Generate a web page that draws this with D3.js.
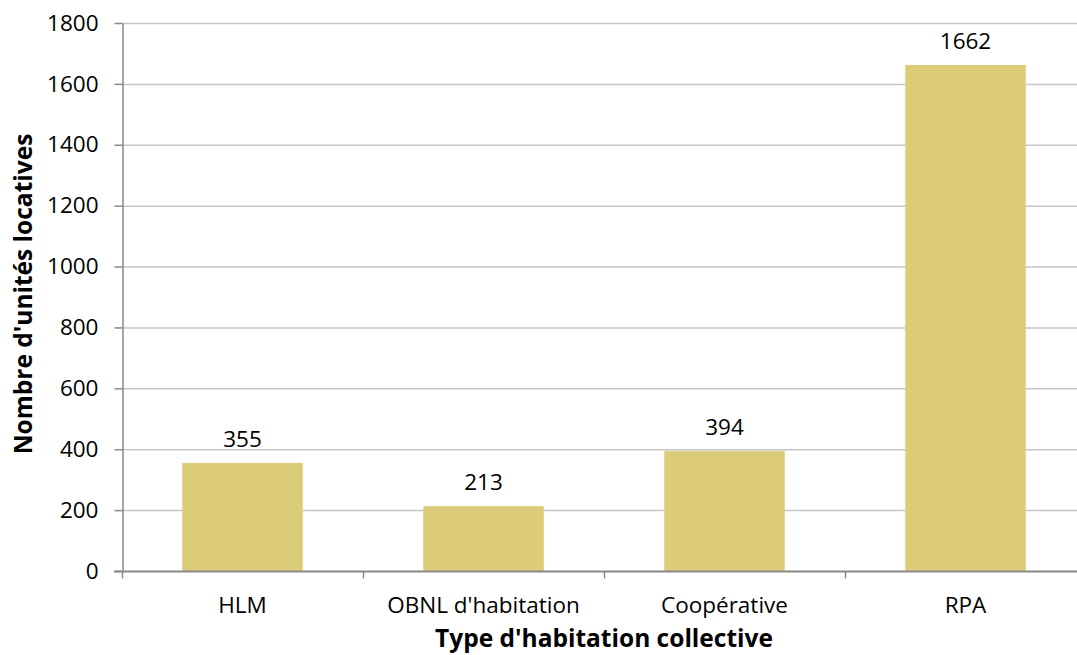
<!DOCTYPE html>
<html>
<head>
<meta charset="utf-8">
<script src="https://cdn.jsdelivr.net/npm/d3@7"></script>
<style>
  body { margin: 0; background: #fff; }
  text { font-family: "Open Sans", sans-serif; fill: #000; }
</style>
</head>
<body>
<div id="chart"></div>
<script>
const categories = ["HLM", "OBNL d'habitation", "Coopérative", "RPA"];
const units = [355, 213, 394, 1662];
const yTicks = [0, 200, 400, 600, 800, 1000, 1200, 1400, 1600, 1800];

const width = 1077, height = 655;
const margin = { top: 23, right: -9, bottom: 84, left: 122 };
const labelFont = "\"Open Sans\", sans-serif";
const labelSize = "22.5px";
const titleSize = "24.5px";

const svg = d3.select("#chart").append("svg")
  .attr("width", width)
  .attr("height", height);

const x = d3.scaleBand()
  .domain(categories)
  .range([margin.left, width - margin.right])
  .paddingInner(0.5)
  .paddingOuter(0.25);

const y = d3.scaleLinear()
  .domain([0, 1800])
  .range([height - margin.bottom, margin.top]);

// gridlines
svg.append("g")
  .selectAll("line")
  .data(yTicks.filter(d => d > 0))
  .enter()
  .append("line")
  .attr("x1", margin.left)
  .attr("x2", width - margin.right)
  .attr("y1", d => y(d) + 0.5)
  .attr("y2", d => y(d) + 0.5)
  .attr("stroke", "#c6c6c6")
  .attr("stroke-width", 1.5);

// bars
svg.append("g")
  .selectAll("rect")
  .data(categories)
  .enter()
  .append("rect")
  .attr("x", d => x(d))
  .attr("width", x.bandwidth())
  .attr("y", (d, i) => y(units[i]))
  .attr("height", (d, i) => y(0) - y(units[i]))
  .attr("fill", "#dccb79");

// value labels
svg.append("g")
  .selectAll("text")
  .data(categories)
  .enter()
  .append("text")
  .attr("x", d => x(d) + x.bandwidth() / 2)
  .attr("y", (d, i) => y(units[i]) - 16)
  .attr("text-anchor", "middle")
  .style("font-size", labelSize)
  .text((d, i) => units[i]);

// y axis
const yAxis = svg.append("g")
  .attr("transform", `translate(${margin.left + 0.5},0)`)
  .call(d3.axisLeft(y).tickValues(yTicks).tickFormat(d3.format("d"))
    .tickSize(8).tickPadding(16).tickSizeOuter(0));
yAxis.select(".domain").attr("stroke", "#888").attr("stroke-width", 1.5);
yAxis.selectAll(".tick line").attr("stroke", "#888").attr("stroke-width", 1.5);
yAxis.selectAll(".tick text")
  .style("font-size", labelSize)
  .style("font-family", labelFont)
  .attr("fill", "#000");

// x axis
const boundaries = categories.map(d => x(d) - x.step() * 0.25);
const xAxis = svg.append("g")
  .attr("transform", `translate(0,${y(0) + 0.5})`);
xAxis.append("line")
  .attr("x1", margin.left - 8)
  .attr("x2", width)
  .attr("stroke", "#888")
  .attr("stroke-width", 2);
xAxis.selectAll(".xtick")
  .data(boundaries)
  .enter()
  .append("line")
  .attr("class", "xtick")
  .attr("x1", d => d + 0.5)
  .attr("x2", d => d + 0.5)
  .attr("y1", 0)
  .attr("y2", 7)
  .attr("stroke", "#888")
  .attr("stroke-width", 1.5);
xAxis.selectAll(".xlabel")
  .data(categories)
  .enter()
  .append("text")
  .attr("class", "xlabel")
  .attr("x", d => x(d) + x.bandwidth() / 2)
  .attr("y", 41)
  .attr("text-anchor", "middle")
  .style("font-size", labelSize)
  .text(d => d);

// axis titles
svg.append("text")
  .attr("x", 604)
  .attr("y", 647)
  .attr("text-anchor", "middle")
  .style("font-size", titleSize)
  .style("font-weight", "bold")
  .text("Type d'habitation collective");

svg.append("text")
  .attr("transform", `translate(32,${(margin.top + y(0)) / 2 - 3}) rotate(-90)`)
  .attr("text-anchor", "middle")
  .style("font-size", titleSize)
  .style("font-weight", "bold")
  .text("Nombre d'unités locatives");
</script>
</body>
</html>
